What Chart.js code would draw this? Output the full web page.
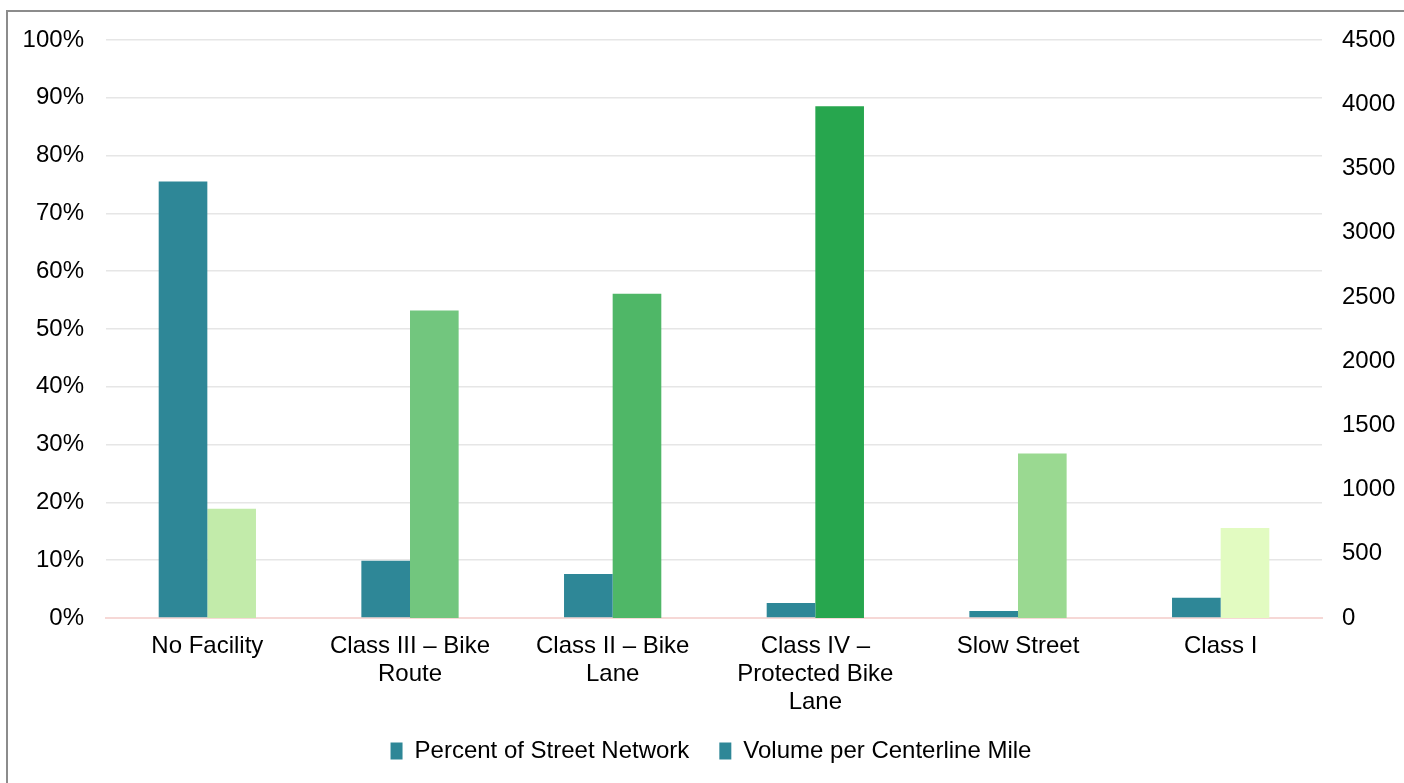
<!DOCTYPE html>
<html>
<head>
<meta charset="utf-8">
<script src="https://cdn.jsdelivr.net/npm/chart.js@4/dist/chart.umd.min.js"></script>
<style>
	html, body { margin: 0; padding: 0; background: #fff; }
	#wrap { position: relative; width: 1404px; height: 783px; overflow: hidden; }
	#frame { position: absolute; left: 6px; top: 10px; width: 1500px; height: 900px; border-left: 2px solid #8c8c8c; border-top: 2px solid #8c8c8c; }
	canvas { position: absolute; left: 0; top: 0; }
</style>
</head>
<body>
<div id="wrap">
	<div id="frame"></div>
	<canvas id="chart" width="1404" height="783"></canvas>
</div>
<script>
	// Facility types along the x axis.
	const categories = [
		'No Facility',
		[ 'Class III – Bike', 'Route' ],
		[ 'Class II – Bike', 'Lane' ],
		[ 'Class IV –', 'Protected Bike', 'Lane' ],
		'Slow Street',
		'Class I',
	];
	// Share of the street network, in %.
	const percentOfNetwork = [ 75.5, 9.9, 7.6, 2.6, 1.2, 3.5 ];
	// Volume per centerline mile (right axis).
	const volumePerMile = [ 850, 2395, 2525, 3985, 1280, 700 ];
	const volumeColors = [ '#c2ebaa', '#72c67e', '#4fb767', '#27a64e', '#9ad991', '#e2fbc1' ];
	const teal = '#2e8797';

	const font = { family: '"Liberation Sans", Arial, sans-serif', size: 24, lineHeight: 1.15 };

	new Chart( document.getElementById( 'chart' ), {
		type: 'bar',
		data: {
			labels: categories,
			datasets: [
				{ label: 'Percent of Street Network', data: percentOfNetwork, backgroundColor: teal, yAxisID: 'y' },
				{ label: 'Volume per Centerline Mile', data: volumePerMile, backgroundColor: volumeColors, yAxisID: 'y2' },
			],
		},
		options: {
			responsive: false,
			animation: false,
			devicePixelRatio: 1,
			categoryPercentage: 0.48,
			barPercentage: 1,
			layout: { padding: { top: 40, bottom: 10, left: 18, right: 0 } },
			plugins: {
				tooltip: { enabled: false },
				legend: {
					position: 'bottom',
					labels: {
						font: { family: font.family, size: 24, lineHeight: 1.2 },
						color: '#000',
						boxWidth: 12,
						boxHeight: 17,
						padding: 10,
						// Both legend keys are teal in the original; the first one gets a wider gap.
						generateLabels: ( chart ) => chart.data.datasets.map( ( ds, i ) => ( {
							text: i === 0 ? ds.label + '\u00a0\u00a0\u00a0' : ds.label,
							fillStyle: teal,
							strokeStyle: teal,
							lineWidth: 0,
							datasetIndex: i,
							fontColor: '#000',
						} ) ),
					},
				},
			},
			scales: {
				x: {
					grid: { display: false },
					border: { color: '#f6d8d6', width: 2 },
					ticks: { font, color: '#000', maxRotation: 0, autoSkip: false, padding: 7 },
					afterFit: ( s ) => { s.height = 111; },
				},
				y: {
					position: 'left',
					min: 0,
					max: 100,
					ticks: { stepSize: 10, font, color: '#000', padding: 22, callback: ( v ) => v + '%' },
					grid: { color: '#e6e6e6', lineWidth: 1.5, drawTicks: false },
					border: { display: false },
					afterFit: ( s ) => { s.width = 88; },
				},
				y2: {
					position: 'right',
					min: 0,
					max: 4500,
					ticks: { stepSize: 500, font, color: '#000', padding: 20, callback: ( v ) => String( v ) },
					grid: { display: false, drawTicks: false },
					border: { display: false },
					afterFit: ( s ) => { s.width = 82; },
				},
			},
		},
	} );
</script>
</body>
</html>
